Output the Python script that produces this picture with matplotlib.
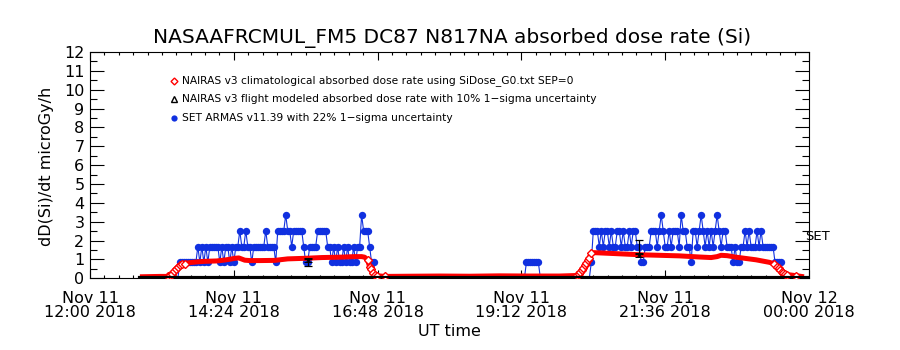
import matplotlib
matplotlib.use("Agg")
import numpy as np
import matplotlib.pyplot as plt
from matplotlib.ticker import MultipleLocator
from matplotlib.transforms import blended_transform_factory

# ---------------- data (time = minutes after Nov 11 12:00 UT) ----------------
title = "NASAAFRCMUL_FM5 DC87 N817NA absorbed dose rate (Si)"
ylabel = "dD(Si)/dt microGy/h"
xlabel = "UT time"
xtick_pos = [0, 144, 288, 432, 576, 720]
xtick_labels = ["Nov 11\n12:00 2018", "Nov 11\n14:24 2018", "Nov 11\n16:48 2018",
                "Nov 11\n19:12 2018", "Nov 11\n21:36 2018", "Nov 12\n00:00 2018"]
ytick_pos = list(range(13))

legend_labels = ["NAIRAS v3 climatological absorbed dose rate using SiDose_G0.txt SEP=0",
                 "NAIRAS v3 flight modeled absorbed dose rate with 10% 1\u2212sigma uncertainty",
                 "SET ARMAS v11.39 with 22% 1\u2212sigma uncertainty"]

# NAIRAS climatological (red)
red_t = [50, 60, 70, 78, 80, 82, 84, 86, 88, 90, 92, 95, 100, 107, 115, 127, 135, 140,
         145, 149, 152, 155, 160, 170, 185, 198, 215, 232, 250, 265, 272, 275, 277, 278,
         280, 281, 283, 285, 287, 295, 320, 350, 380, 410, 440, 470, 488, 490, 491, 493,
         494, 496, 497, 499, 500, 502, 505, 530, 550, 570, 590, 610, 622, 628, 632, 638,
         647, 667, 680, 685, 688, 690, 691, 693, 694, 696, 698, 707, 715]
red_v = [0.08, 0.09, 0.10, 0.10, 0.15, 0.25, 0.38, 0.50, 0.60, 0.68, 0.74, 0.78, 0.83,
         0.87, 0.90, 0.92, 0.97, 1.01, 1.06, 1.08, 1.02, 0.96, 0.94, 0.94, 0.95, 1.03,
         1.06, 1.10, 1.12, 1.15, 1.15, 1.12, 1.02, 0.95, 0.62, 0.50, 0.28, 0.20, 0.14,
         0.10, 0.11, 0.12, 0.11, 0.13, 0.12, 0.12, 0.15, 0.25, 0.35, 0.45, 0.55, 0.68,
         0.80, 0.95, 1.10, 1.33, 1.36, 1.30, 1.25, 1.22, 1.19, 1.13, 1.10, 1.15, 1.22,
         1.20, 1.12, 0.98, 0.85, 0.78, 0.62, 0.52, 0.42, 0.35, 0.28, 0.24, 0.20, 0.14, 0.08]

# SET ARMAS (blue), flight 1 sampled every 2 min from minute 90
blue_flight1_start = 90
blue_flight1 = [0.84, 0.84, 0.84, 0.84, 0.84, 0.84, 0.84, 0.84, 0.84, 1.68,
                0.84, 1.68, 0.84, 1.68, 0.84, 1.68, 1.68, 1.68, 1.68, 1.68,
                0.84, 1.68, 0.84, 1.68, 1.68, 0.84, 1.68, 0.84, 1.68, 1.68,
                2.52, 1.68, 1.68, 2.52, 1.68, 1.68, 0.84, 1.68, 1.68, 1.68,
                1.68, 1.68, 1.68, 2.52, 1.68, 1.68, 1.68, 1.68, 0.84, 2.52,
                2.52, 2.52, 2.52, 3.36, 2.52, 2.52, 1.68, 2.52, 2.52, 2.52,
                2.52, 2.52, 1.68, 0.84, 0.84, 1.68, 1.68, 1.68, 1.68, 2.52,
                2.52, 2.52, 2.52, 2.52, 1.68, 1.68, 0.84, 1.68, 0.84, 1.68,
                0.84, 0.84, 1.68, 0.84, 1.68, 0.84, 0.84, 1.68, 0.84, 1.68,
                1.68, 3.36, 2.52, 2.52, 2.52, 1.68, 0.84, 0.84]
# ground period
blue_ground_t = [50, 88, 286, 435, 437, 439, 441, 443, 445, 447, 449, 451, 498]
blue_ground_v = [0.0, 0.0, 0.0, 0.0, 0.84, 0.84, 0.84, 0.84, 0.84, 0.84, 0.84, 0.0, 0.0]
# flight 2 sampled every 2 min from minute 500
blue_flight2_start = 500
blue_flight2 = [0.0, 0.84, 2.52, 2.52, 2.52, 1.68, 2.52, 1.68, 2.52, 2.52,
                1.68, 2.52, 1.68, 1.68, 2.52, 2.52, 1.68, 2.52, 1.68, 1.68,
                2.52, 1.68, 2.52, 2.52, 1.68, 1.68, 0.84, 0.84, 1.68, 1.68,
                1.68, 2.52, 2.52, 2.52, 1.68, 2.52, 3.36, 2.52, 1.68, 1.68,
                2.52, 1.68, 2.52, 2.52, 2.52, 1.68, 3.36, 2.52, 2.52, 1.68,
                1.68, 0.84, 2.52, 2.52, 1.68, 2.52, 3.36, 2.52, 1.68, 2.52,
                1.68, 2.52, 1.68, 2.52, 3.36, 2.52, 1.68, 2.52, 2.52, 1.68,
                1.68, 1.68, 0.84, 1.68, 0.84, 0.84, 1.68, 1.68, 2.52, 1.68,
                2.52, 1.68, 1.68, 1.68, 2.52, 1.68, 2.52, 1.68, 1.68, 1.68,
                1.68, 1.68, 1.68, 0.84, 0.84, 0.84, 0.84, 0.0]

# SET points shown with 22% 1-sigma error bars
set_err_t = [218, 550]
set_err_v = [0.84, 1.68]
set_err = [0.185, 0.37]

# NAIRAS flight modeled (black): zero baseline + two modeled points with 10% error
black_base_t = [50, 718]
black_base_v = [0.0, 0.0]
flight_t = [218, 550]
flight_v = [0.97, 1.24]
flight_err = [0.097, 0.124]

set_label_y = 2.2

# ---------------- figure ----------------
RED = "#ff0000"
BLUE = "#1030e0"

fig = plt.figure(figsize=(9, 3.5), dpi=100)
ax = fig.add_axes([90 / 900, (350 - 278.3) / 350, 719 / 900, (278.3 - 52) / 350])

# blue series
b1_t = blue_flight1_start + 2 * np.arange(len(blue_flight1))
b2_t = blue_flight2_start + 2 * np.arange(len(blue_flight2))
blue_t = np.concatenate([blue_ground_t[:2], b1_t, blue_ground_t[2:], b2_t])
blue_v = np.concatenate([blue_ground_v[:2], blue_flight1, blue_ground_v[2:], blue_flight2])
ax.plot(blue_t, blue_v, "-", color=BLUE, lw=0.8, zorder=2)
mask = blue_v > 0
ax.plot(blue_t[mask], blue_v[mask], "o", color=BLUE, ms=5.3, mew=0, zorder=2)

# red series: thick band, open diamonds visible on climb/descent
ax.plot(red_t, red_v, "-", color=RED, lw=3.6, zorder=3, solid_capstyle="butt",
        solid_joinstyle="round")
ramp_idx = list(range(3, 12)) + list(range(33, 40)) + list(range(46, 56)) + list(range(69, 78))
ax.plot(red_t, red_v, "D", color=RED, ms=3.6, mfc="white", mew=1.0, zorder=3,
        markevery=ramp_idx, linestyle="none")

# black baseline
ax.plot(black_base_t, black_base_v, "-", color="black", lw=3.0, zorder=4)

# error bars
ax.errorbar(set_err_t, set_err_v, yerr=set_err, fmt="none", ecolor="black",
            elinewidth=0.9, capsize=3, capthick=0.9, zorder=5)
ax.errorbar(flight_t, flight_v, yerr=flight_err, fmt="^", color="black", ms=2.5,
            mfc="none", mew=0.7, ecolor="black", elinewidth=0.9, capsize=3,
            capthick=0.9, zorder=5)

# axes
ax.set_xlim(0, 720)
ax.set_ylim(0, 12)
ax.set_xticks(xtick_pos)
ax.set_xticklabels(xtick_labels, fontsize=11.5, linespacing=0.95)
ax.set_yticks(ytick_pos)
ax.set_yticklabels([str(v) for v in ytick_pos], fontsize=11.5)
ax.xaxis.set_minor_locator(MultipleLocator(14.4))
ax.yaxis.set_minor_locator(MultipleLocator(0.5))
ax.tick_params(axis="both", which="both", direction="in", top=True, right=True,
               width=0.8, colors="black")
ax.tick_params(axis="y", which="major", length=10, pad=4)
ax.tick_params(axis="y", which="minor", length=5)
ax.tick_params(axis="x", which="major", length=6, pad=9)
ax.tick_params(axis="x", which="minor", length=2.5)
for s in ax.spines.values():
    s.set_linewidth(0.8)

# legend (manual, inside plot)
leg_x_marker = (174 - 90) / 719
leg_x_text = (182 - 90) / 719
leg_rows = [(278.3 - y) / 226.3 for y in (81, 99, 118)]
ax.plot([leg_x_marker], [leg_rows[0]], "D", transform=ax.transAxes, color=RED,
        ms=3.5, mfc="none", mew=1.0, clip_on=False)
ax.plot([leg_x_marker], [leg_rows[1]], "^", transform=ax.transAxes, color="black",
        ms=4, mfc="none", mew=1.0, clip_on=False)
ax.plot([leg_x_marker], [leg_rows[2]], "o", transform=ax.transAxes, color=BLUE,
        ms=4.5, mew=0, clip_on=False)
for lbl, yy in zip(legend_labels, leg_rows):
    ax.text(leg_x_text, yy, lbl, transform=ax.transAxes, fontsize=7.7,
            ha="left", va="center")

# SET label at right edge
trans = blended_transform_factory(ax.transAxes, ax.transData)
ax.text(0.994, set_label_y, "SET", transform=trans, fontsize=9.5, ha="left",
        va="center", clip_on=False)

# title and axis labels
fig.text(452 / 900, 1 - 38 / 350, title, fontsize=14.5, ha="center", va="center")
fig.text(449.5 / 900, 1 - 332 / 350, xlabel, fontsize=11.5, ha="center", va="center")
fig.text(47 / 900, 1 - 166 / 350, ylabel, fontsize=11.5, ha="center", va="center",
         rotation=90)

fig.savefig("out.png", dpi=100)
